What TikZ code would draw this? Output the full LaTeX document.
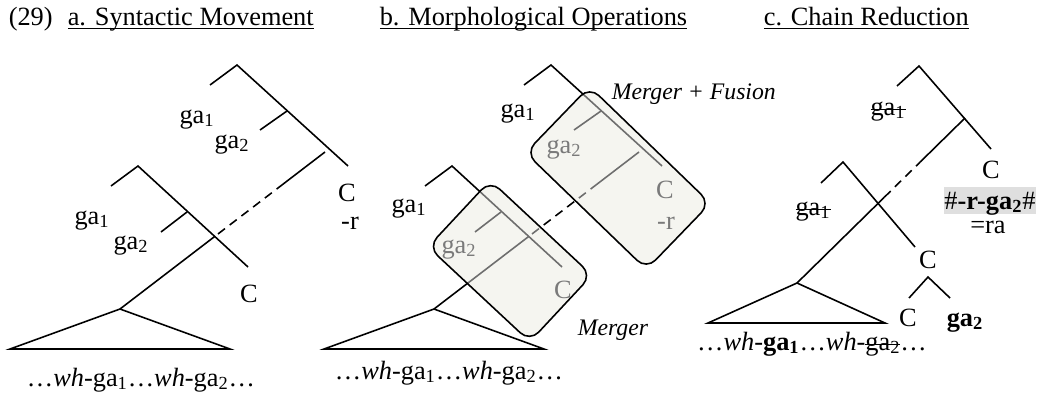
\documentclass[tikz,border=0pt]{standalone}
\usepackage{fontspec}
\setmainfont{Liberation Serif}
\usetikzlibrary{calc}
\definecolor{boxfill}{HTML}{F5F5F0}
\definecolor{fadeline}{HTML}{6E6E6E}
\definecolor{fadetext}{HTML}{7A7A7A}
\newsavebox\markbox
\def\ix#1{\textsubscript{#1}}
\def\strk#1{\sbox\markbox{#1}\rlap{\rule[0.2em]{\wd\markbox}{0.045em}}\usebox\markbox}
\def\ttl#1{\sbox\markbox{#1}\rlap{\rule[-0.17em]{\wd\markbox}{0.04em}}\usebox\markbox}

\begin{document}
\begin{tikzpicture}[x=0.02cm, y=-0.02cm, line width=0.9pt,
  lbl/.style={inner sep=0pt, anchor=base, font=\fontsize{15}{18}\selectfont},
  opname/.style={inner sep=0pt, anchor=base west, font=\fontsize{13.5}{16}\selectfont\itshape},
  movedash/.style={dash pattern=on 5pt off 3.4pt},
  lowbox/.style={shift={(510,261)}, rotate=-43, rounded corners=7.4pt},
  upbox/.style={shift={(618,178)}, rotate=-44, rounded corners=7.4pt}]
\useasboundingbox (0,0) rectangle (1040,392);

% titles
\node[lbl, anchor=base west] (num) at (8,25) {(29)};
\node[lbl, anchor=base west] (ttlA) at (67,25) {\ttl{a. Syntactic Movement}};
\node[lbl, anchor=base west] (ttlB) at (379,25) {\ttl{b. Morphological Operations}};
\node[lbl, anchor=base west] (ttlC) at (763,25) {\ttl{c. Chain Reduction}};

% a. syntactic movement
\coordinate (aT) at (237,65);  \coordinate (aTl) at (210,85);  \coordinate (aTr) at (348,166);
\coordinate (aTm) at (287,111); \coordinate (aTs) at (260,130);
\coordinate (aL) at (138,166); \coordinate (aLl) at (111,186); \coordinate (aLr) at (248,267);
\coordinate (aLm) at (187,212); \coordinate (aLs) at (161,232);
\coordinate (aA) at (120,309); \coordinate (aB1) at (10,349); \coordinate (aB2) at (230,349);
\coordinate (aE) at (325,152);
\coordinate (aX) at ($(aA)!0.463!(aE)$);
\coordinate (aX2) at ($(aA)!0.478!(aE)$);
\coordinate (aD) at ($(aA)!0.766!(aE)$);
\draw (aTl) -- (aT) -- (aTr);
\draw (aTm) -- (aTs);
\draw (aLl) -- (aL) -- (aLr);
\draw (aLm) -- (aLs);
\draw (aB1) -- (aA) -- (aB2) -- cycle;
\draw (aA) -- (aX);
\draw[movedash] (aX2) -- (aD);
\draw (aD) -- (aE);
\node[lbl] (aga1t) at (197,123) {ga\ix{1}};
\node[lbl] (aga2t) at (232,148) {ga\ix{2}};
\node[lbl] (aCt) at (347,201) {C};
\node[lbl] (art) at (350,229) {-r};
\node[lbl] (aga1l) at (92,224) {ga\ix{1}};
\node[lbl] (aga2l) at (131,249) {ga\ix{2}};
\node[lbl] (aCl) at (249,302) {C};
\node[lbl] (awh) at (141,386) {…\textit{wh}-ga\ix{1}…\textit{wh}-ga\ix{2}…};

% b. morphological operations
\coordinate (bT) at (237 + 314,65);  \coordinate (bTl) at (210 + 314,85);  \coordinate (bTr) at (348 + 314,166);
\coordinate (bTm) at (287 + 314,111); \coordinate (bTs) at (260 + 314,130);
\coordinate (bL) at (138 + 314,166); \coordinate (bLl) at (111 + 314,186); \coordinate (bLr) at (248 + 314,267);
\coordinate (bLm) at (187 + 314,212); \coordinate (bLs) at (161 + 314,232);
\coordinate (bA) at (120 + 314,309); \coordinate (bB1) at (10 + 314,349); \coordinate (bB2) at (230 + 314,349);
\coordinate (bE) at (325 + 314,152);
\coordinate (bX) at ($(bA)!0.463!(bE)$);
\coordinate (bX2) at ($(bA)!0.478!(bE)$);
\coordinate (bD) at ($(bA)!0.766!(bE)$);
\draw (bTl) -- (bT) -- (bTr);
\draw (bTm) -- (bTs);
\draw (bLl) -- (bL) -- (bLr);
\draw (bLm) -- (bLs);
\draw (bB1) -- (bA) -- (bB2) -- cycle;
\draw (bA) -- (bX);
\draw[movedash] (bX2) -- (bD);
\draw (bD) -- (bE);
\foreach \bx/\w/\h in {lowbox/69.5/45.5, upbox/84/46} {
  \fill[\bx, boxfill] (-\w,-\h) rectangle (\w,\h);
  \begin{scope}
    \clip[\bx] (-\w,-\h) rectangle (\w,\h);
    \begin{scope}[color=fadeline]
      \draw (bT) -- (bTr);
      \draw (bTm) -- (bTs);
      \draw (bL) -- (bLr);
      \draw (bLm) -- (bLs);
      \draw (bA) -- (bX);
      \draw[movedash] (bX2) -- (bD);
      \draw (bD) -- (bE);
    \end{scope}
  \end{scope}
  \draw[\bx] (-\w,-\h) rectangle (\w,\h);
}
\node[lbl] (bga1t) at (518,117) {ga\ix{1}};
\node[lbl, text=fadetext] (bga2t) at (564,153) {ga\ix{2}};
\node[lbl, text=fadetext] (bCt) at (665,198) {C};
\node[lbl, text=fadetext] (brt) at (666,229) {-r};
\node[lbl] (bga1l) at (409,212) {ga\ix{1}};
\node[lbl, text=fadetext] (bga2l) at (459,253) {ga\ix{2}};
\node[lbl, text=fadetext] (bCl) at (563,298) {C};
\node[opname] (fusion) at (611,99) {Merger + Fusion};
\node[opname] (merger) at (577,335) {Merger};
\node[lbl] (bwh) at (449,379) {…\textit{wh}-ga\ix{1}…\textit{wh}-ga\ix{2}…};

% c. chain reduction
\coordinate (cT) at (919,66);  \coordinate (cTl) at (897,86);  \coordinate (cTr) at (991,149);
\coordinate (cTm) at (965,118);
\coordinate (cL) at (843,162); \coordinate (cLl) at (821,183); \coordinate (cLr) at (915,247);
\coordinate (cA) at (797,283); \coordinate (cB1) at (708,323); \coordinate (cB2) at (885,323);
\coordinate (cX) at ($(cA)!0.52!(cTm)$);
\coordinate (cD) at ($(cA)!0.733!(cTm)$);
\coordinate (cS) at (928,277); \coordinate (cSl) at (909,298); \coordinate (cSr) at (950,298);
\draw (cTl) -- (cT) -- (cTr);
\draw (cLl) -- (cL) -- (cLr);
\draw (cB1) -- (cA) -- (cB2) -- cycle;
\draw (cA) -- (cX);
\draw[movedash] (cX) -- (cD);
\draw (cD) -- (cTm);
\draw (cSl) -- (cS) -- (cSr);
\node[lbl] (cga1t) at (888,115) {\strk{ga\ix{1}}};
\node[lbl] (cga1l) at (813,215) {\strk{ga\ix{1}}};
\node[lbl] (cCt) at (991,178) {C};
\node[lbl, fill=gray!25, text height=0.44cm, text depth=0.1cm] (cfuse) at (990,209) {\#\textbf{-r-ga\ix{2}}\#};
\node[lbl] (cra) at (988,233) {=ra};
\node[lbl] (cCl) at (928,268) {C};
\node[lbl] (cCh) at (908,326) {C};
\node[lbl] (cga2) at (965,326) {\textbf{ga\ix{2}}};
\node[lbl] (cwh) at (812,350) {…\textit{wh}-\textbf{ga\ix{1}}…\textit{wh}-\strk{ga\ix{2}}…};
\end{tikzpicture}
\end{document}
